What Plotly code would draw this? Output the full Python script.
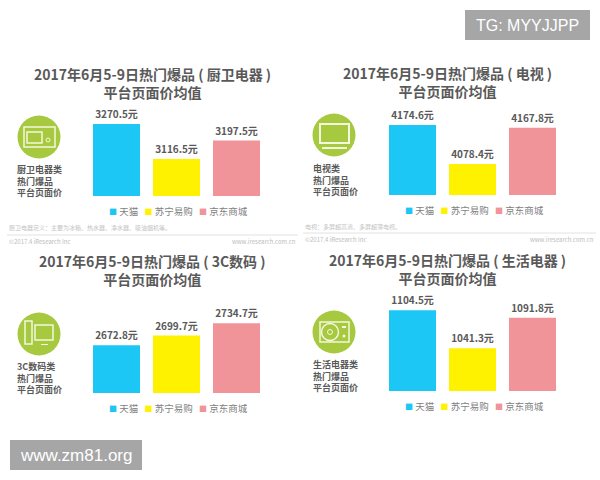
import plotly.graph_objects as go

stores = ["天猫", "苏宁易购", "京东商城"]
kitchen = [3270.5, 3116.5, 3197.5]
tv = [4174.6, 4078.4, 4167.8]
digital = [2672.8, 2699.7, 2734.7]
living = [1104.5, 1041.3, 1091.8]
bar_colors = ["#1CC6F5", "#FFF200", "#F19499"]
title_top = "2017年6月5-9日热门爆品 ( {} )"
title_bottom = "平台页面价均值"
names = ["厨卫电器", "电视", "3C数码", "生活电器"]
side_labels = [["厨卫电器类", "热门爆品", "平台页面价"], ["电视类", "热门爆品", "平台页面价"],
               ["3C数码类", "热门爆品", "平台页面价"], ["生活电器类", "热门爆品", "平台页面价"]]
series = [kitchen, tv, digital, living]

FONT = "Noto Sans CJK SC"
GREY = "#595959"
GREEN = "#A6C93F"
ICON = "#F4F8DC"
W, H = 600, 480
def px(x): return x / W
def py(y): return 1 - y / H

# layout per panel: plot left, right, top, bottom (px), axis baseline, px per unit
panels = [
    dict(l=86.5, r=266.5, t=100, b=196, base=2953, k=0.227, tx=152, ty=83, ix=39, iy=137, sx=15, sy=181, ly=211),
    dict(l=382.5, r=562.5, t=100, b=195, base=4002, k=0.405, tx=447, ty=82, ix=334, iy=135, sx=311, sy=180, ly=210),
    dict(l=86.5, r=266.5, t=295, b=393, base=2538, k=0.355, tx=152, ty=270, ix=39, iy=334, sx=15, sy=378, ly=408),
    dict(l=382.5, r=562.5, t=290, b=391, base=970, k=0.601, tx=447, ty=269, ix=334, iy=332, sx=311, sy=376, ly=406),
]

fig = go.Figure()
shapes, ann = [], []

def text(x, y, s, size, color=GREY, bold=False, anchor="center", family=FONT):
    ann.append(dict(xref="paper", yref="paper", x=px(x), y=py(y), text=f"<b>{s}</b>" if bold else s,
                    showarrow=False, xanchor=anchor, yanchor="middle", align=anchor,
                    font=dict(family=family, size=size, color=color)))

def box(x0, y0, x1, y1, fill=None, line=None, w=1.5):
    shapes.append(dict(type="rect", xref="paper", yref="paper", x0=px(x0), x1=px(x1), y0=py(y0), y1=py(y1),
                       fillcolor=fill or "rgba(0,0,0,0)", line=dict(color=line or "rgba(0,0,0,0)", width=w if line else 0)))

def circle(cx, cy, r, fill=None, line=None, w=1.5):
    shapes.append(dict(type="circle", xref="paper", yref="paper", x0=px(cx - r), x1=px(cx + r), y0=py(cy - r), y1=py(cy + r),
                       fillcolor=fill or "rgba(0,0,0,0)", line=dict(color=line or "rgba(0,0,0,0)", width=w if line else 0)))

for i, (p, vals) in enumerate(zip(panels, series)):
    sfx = "" if i == 0 else str(i + 1)
    fig.add_trace(go.Bar(x=stores, y=vals, width=47 / 60, marker=dict(color=bar_colors, line=dict(width=0)),
                         text=[f"{v}元" for v in vals], textposition="outside", cliponaxis=False,
                         textfont=dict(family=FONT, size=10, color=GREY, weight="bold"),
                         showlegend=False, xaxis=f"x{sfx}", yaxis=f"y{sfx}"))
    top = p["base"] + (p["b"] - p["t"]) / p["k"]
    fig.update_layout({
        f"xaxis{sfx}": dict(domain=[px(p["l"]), px(p["r"])], anchor=f"y{sfx}", visible=False),
        f"yaxis{sfx}": dict(domain=[py(p["b"]), py(p["t"])], anchor=f"x{sfx}", range=[p["base"], top], visible=False),
    })
    text(p["tx"], p["ty"], title_top.format(names[i]) + "<br>" + title_bottom, 14, bold=True)
    text(p["sx"], p["sy"], "<br>".join(side_labels[i]), 9, bold=True, anchor="left")
    legend = "   ".join(f'<span style="color:{c};font-size:8px">■</span> {n}' for c, n in zip(bar_colors, stores))
    text((p["l"] + p["r"]) / 2 + 1.5, p["ly"], legend, 9.5, color="#7f7f7f")
    cx, cy = p["ix"], p["iy"]
    circle(cx, cy, 21.5, fill=GREEN)
    if i == 0:
        box(cx - 15, cy - 10, cx + 16, cy + 10, line=ICON, w=1.5)
        box(cx - 12, cy - 5, cx + 3, cy + 6, line=ICON, w=1.5)
        circle(cx + 9, cy + 3, 2, line=ICON, w=1)
    elif i == 1:
        box(cx - 14, cy - 11, cx + 15, cy + 8, line=ICON, w=2)
        box(cx - 12, cy + 12, cx + 13, cy + 14, fill=ICON)
    elif i == 2:
        box(cx - 14, cy - 13, cx - 7, cy + 10, line=ICON, w=1.5)
        box(cx - 4, cy - 9, cx + 14, cy + 6, line=ICON, w=1.5)
        box(cx + 2, cy + 10, cx + 9, cy + 11, fill=ICON)
    else:
        box(cx - 14, cy - 10, cx + 15, cy + 10, line=ICON, w=1.5)
        circle(cx - 4, cy, 8.5, line=ICON, w=1.5)
        circle(cx - 4, cy, 2.5, line=ICON, w=1)
        box(cx + 8, cy - 6, cx + 12, cy - 4, fill=ICON)
        circle(cx + 10, cy + 4, 1.5, fill=ICON)

# footers of the two upper panels
for x0, x1, ly, note, ny, cy in [
    (7, 298, 235, "厨卫电器定义：主要为冰箱、热水器、净水器、吸油烟机等。", 227, 241),
    (303, 596, 233, "电视：多屏超高清、多屏超薄电视。", 226, 239),
]:
    shapes.append(dict(type="line", xref="paper", yref="paper", x0=px(x0), x1=px(x1), y0=py(ly), y1=py(ly),
                       line=dict(color="#E2E2E2", width=1)))
    text(x0, ny, note, 6, color="#C4C4C4", anchor="left")
    text(x0, cy, "©2017.4 iResearch Inc", 6, color="#BDBDBD", anchor="left")
    text(x1, cy, "www.iresearch.com.cn", 6, color="#BDBDBD", anchor="right")

# watermarks
box(465, 10, 590, 40, fill="#A6A6A6")
text(527, 25, "TG: MYYJJPP", 16, color="#FFFFFF", family="Liberation Sans")
box(10, 440, 142, 470, fill="#A6A6A6")
text(76, 455, "www.zm81.org", 17, color="#FFFFFF", family="Liberation Sans")

fig.update_layout(width=W, height=H, margin=dict(l=0, r=0, t=0, b=0), paper_bgcolor="#FFFFFF",
                  plot_bgcolor="rgba(0,0,0,0)", barmode="overlay", shapes=shapes, annotations=ann,
                  font=dict(family=FONT))
fig.write_html("out.html", config=dict(displayModeBar=False),
               post_script="document.body.style.margin='0';")
